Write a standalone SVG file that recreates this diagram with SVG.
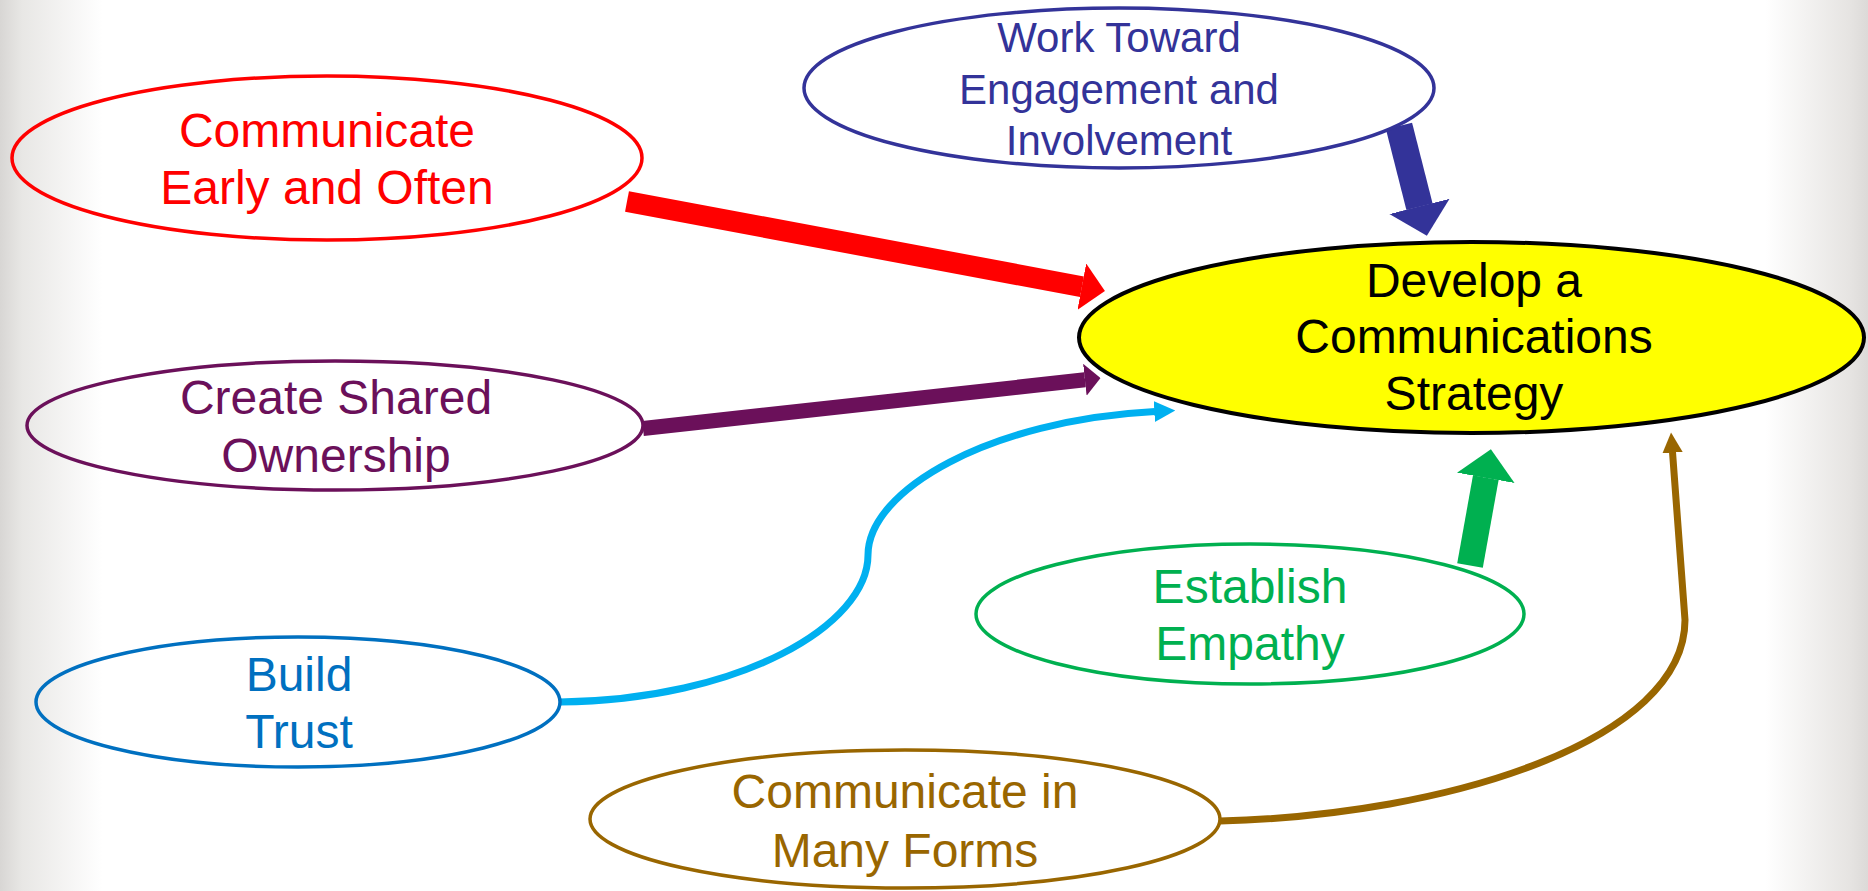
<svg xmlns="http://www.w3.org/2000/svg" width="1868" height="891" viewBox="0 0 1868 891">
<defs>
<linearGradient id="bg" x1="0" y1="0" x2="1868" y2="0" gradientUnits="userSpaceOnUse">
<stop offset="0" stop-color="#d8d6d4"/>
<stop offset="0.012" stop-color="#e8e7e5"/>
<stop offset="0.055" stop-color="#ffffff"/>
<stop offset="0.945" stop-color="#ffffff"/>
<stop offset="0.99" stop-color="#e6e4e2"/>
<stop offset="1" stop-color="#dcdad8"/>
</linearGradient>
<marker id="thin-cyan" markerUnits="strokeWidth" viewBox="0 0 30 30" markerWidth="3" markerHeight="3" refX="1" refY="15" orient="auto">
<path d="M0,0 L30,15 L0,30 z" fill="#00B0F0"/>
</marker>
<marker id="thin-brown" markerUnits="strokeWidth" viewBox="0 0 30 30" markerWidth="2.9" markerHeight="2.9" refX="1" refY="15" orient="auto">
<path d="M0,0 L30,15 L0,30 z" fill="#996600"/>
</marker>
<marker id="m-red" markerUnits="strokeWidth" viewBox="0 0 112 225" markerWidth="1.12" markerHeight="2.25" refX="1" refY="112.5" orient="auto"><path d="M0,0 L112,112.5 L0,225 z" fill="#FF0000"/></marker>
<marker id="m-navy" markerUnits="strokeWidth" viewBox="0 0 112 225" markerWidth="1.12" markerHeight="2.3" refX="1" refY="112.5" orient="auto" preserveAspectRatio="none"><path d="M0,0 L112,112.5 L0,225 z" fill="#333399"/></marker>
<marker id="m-green" markerUnits="strokeWidth" viewBox="0 0 112 225" markerWidth="1.12" markerHeight="2.25" refX="1" refY="112.5" orient="auto"><path d="M0,0 L112,112.5 L0,225 z" fill="#00B050"/></marker>
<marker id="m-purple" markerUnits="strokeWidth" viewBox="0 0 112 225" markerWidth="1.05" markerHeight="2.15" refX="1" refY="112.5" orient="auto" preserveAspectRatio="none"><path d="M0,0 L112,112.5 L0,225 z" fill="#6B105A"/></marker>
</defs>
<style>
text { font-family: "Liberation Sans", Arial, sans-serif; text-anchor: middle; }
.lg { font-size: 48px; }
.md { font-size: 42px; }
ellipse { fill: none; stroke-width: 3.5; }
.conn { fill: none; stroke-linecap: butt; }
</style>
<rect x="0" y="0" width="1868" height="891" fill="url(#bg)"/>

<g id="connectors">
<line class="conn" x1="627" y1="201.5" x2="1082" y2="286.7" stroke="#FF0000" stroke-width="21" marker-end="url(#m-red)"/>
<line class="conn" x1="643" y1="428.5" x2="1085" y2="379.8" stroke="#6B105A" stroke-width="15" marker-end="url(#m-purple)"/>
<line class="conn" x1="1399" y1="126" x2="1419.5" y2="206.7" stroke="#333399" stroke-width="27" marker-end="url(#m-navy)"/>
<line class="conn" x1="1470" y1="565.5" x2="1485.8" y2="477.6" stroke="#00B050" stroke-width="26" marker-end="url(#m-green)"/>
<path class="conn" d="M560 702 C740 700 868 625 868 555 C868 490 990 420 1155 411.5" stroke="#00B0F0" stroke-width="7" marker-end="url(#thin-cyan)"/>
<path class="conn" d="M1220 821 C1450 815 1685 740 1685 620 L1672.5 452" stroke="#996600" stroke-width="7" marker-end="url(#thin-brown)"/>
</g>

<g id="node-early">
<ellipse cx="327" cy="158" rx="315" ry="82" stroke="#FF0000"/>
<text class="lg" fill="#FF0000"><tspan x="327" y="147">Communicate</tspan><tspan x="327" y="204">Early and Often</tspan></text>
</g>

<g id="node-engagement">
<ellipse cx="1119" cy="88" rx="315" ry="80" stroke="#333399"/>
<text class="md" fill="#333399"><tspan x="1119" y="52">Work Toward</tspan><tspan x="1119" y="104">Engagement and</tspan><tspan x="1119" y="155">Involvement</tspan></text>
</g>

<g id="node-ownership">
<ellipse cx="335" cy="425.5" rx="308" ry="64.5" stroke="#6B105A"/>
<text class="lg" fill="#6B105A"><tspan x="336" y="414">Create Shared</tspan><tspan x="336" y="472">Ownership</tspan></text>
</g>

<g id="node-strategy">
<ellipse cx="1471.5" cy="337.5" rx="392.5" ry="95.5" stroke="#000000" style="fill:#FFFF00;stroke-width:4"/>
<text class="lg" fill="#000000"><tspan x="1474" y="297">Develop a</tspan><tspan x="1474" y="353">Communications</tspan><tspan x="1474" y="410">Strategy</tspan></text>
</g>

<g id="node-trust">
<ellipse cx="298" cy="702" rx="262" ry="65" stroke="#0070C0"/>
<text class="lg" fill="#0070C0"><tspan x="299" y="691">Build</tspan><tspan x="299" y="748">Trust</tspan></text>
</g>

<g id="node-empathy">
<ellipse cx="1250" cy="614" rx="274" ry="70" stroke="#00B050"/>
<text class="lg" fill="#00B050"><tspan x="1250" y="603">Establish</tspan><tspan x="1250" y="660">Empathy</tspan></text>
</g>

<g id="node-forms">
<ellipse cx="905" cy="819" rx="315" ry="69" stroke="#996600"/>
<text class="lg" fill="#996600"><tspan x="905" y="808">Communicate in</tspan><tspan x="905" y="867">Many Forms</tspan></text>
</g>
</svg>
